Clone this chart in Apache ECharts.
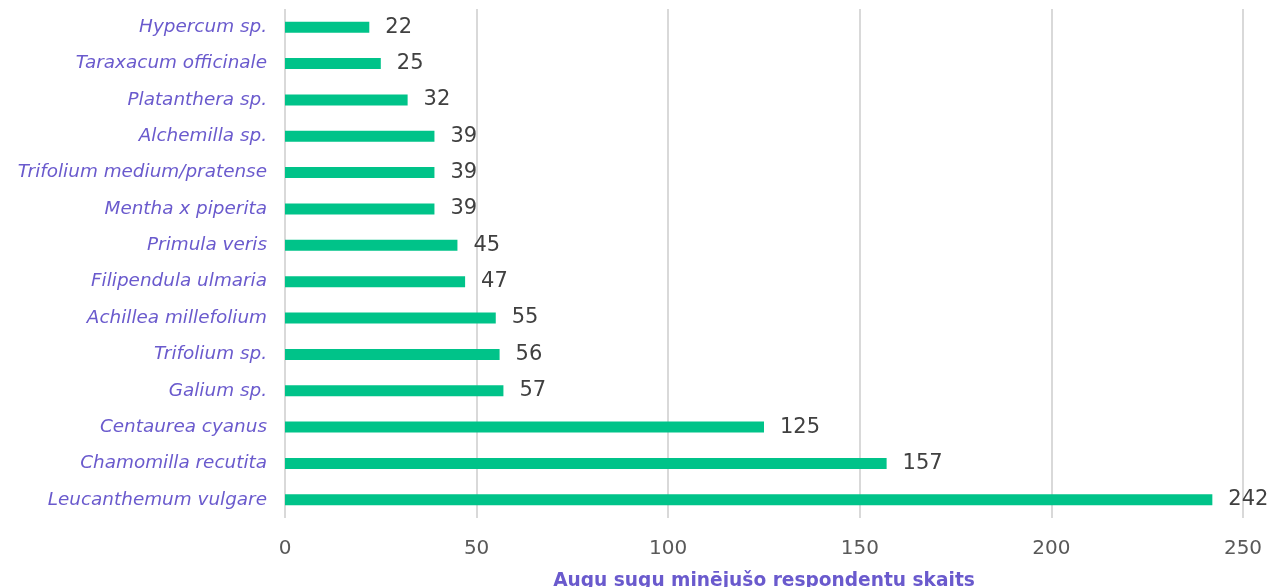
<!DOCTYPE html>
<html>
<head>
<meta charset="utf-8">
<script src="https://cdn.jsdelivr.net/npm/echarts@6/dist/echarts.min.js"></script>
<style>
  html, body { margin: 0; padding: 0; background: #fff; }
  #chart { width: 1279px; height: 587px; }
</style>
</head>
<body>
<div id="chart"></div>
<script>
// Plant species, listed bottom to top
const species = [
  'Leucanthemum vulgare',
  'Chamomilla recutita',
  'Centaurea cyanus',
  'Galium sp.',
  'Trifolium sp.',
  'Achillea millefolium',
  'Filipendula ulmaria',
  'Primula veris',
  'Mentha x piperita',
  'Trifolium medium/pratense',
  'Alchemilla sp.',
  'Platanthera sp.',
  'Taraxacum officinale',
  'Hypercum sp.'
];
// Number of respondents naming each species
const counts = [242, 157, 125, 57, 56, 55, 47, 45, 39, 39, 39, 32, 25, 22];
const axisTitle = 'Augu sugu minējušo respondentu skaits';

const chart = echarts.init(document.getElementById('chart'));
chart.setOption({
  animation: false,
  textStyle: { fontFamily: 'DejaVu Sans' },
  grid: { left: 285, right: 36, top: 9, height: 509, containLabel: false, outerBoundsMode: 'none' },
  xAxis: {
    type: 'value',
    min: 0,
    max: 250,
    interval: 50,
    name: axisTitle,
    nameLocation: 'middle',
    nameGap: 54,
    nameTextStyle: { fontFamily: 'DejaVu Sans', fontSize: 18.6, fontWeight: 'bold', color: '#6a5acd' },
    axisLine: { show: false },
    axisTick: { show: false },
    axisLabel: { fontSize: 20, color: '#595959', margin: 21 },
    splitLine: { show: true, lineStyle: { color: '#d9d9d9', width: 2 } }
  },
  yAxis: {
    type: 'category',
    data: species,
    axisLine: { show: false },
    axisTick: { show: false },
    axisLabel: { fontSize: 18.4, fontStyle: 'italic', color: '#6a5acd', margin: 18 }
  },
  series: [{
    type: 'bar',
    data: counts,
    barWidth: 11,
    itemStyle: { color: '#00c389' },
    label: {
      show: true,
      position: 'right',
      distance: 16,
      fontSize: 21,
      color: '#404040'
    }
  }]
});
</script>
</body>
</html>
